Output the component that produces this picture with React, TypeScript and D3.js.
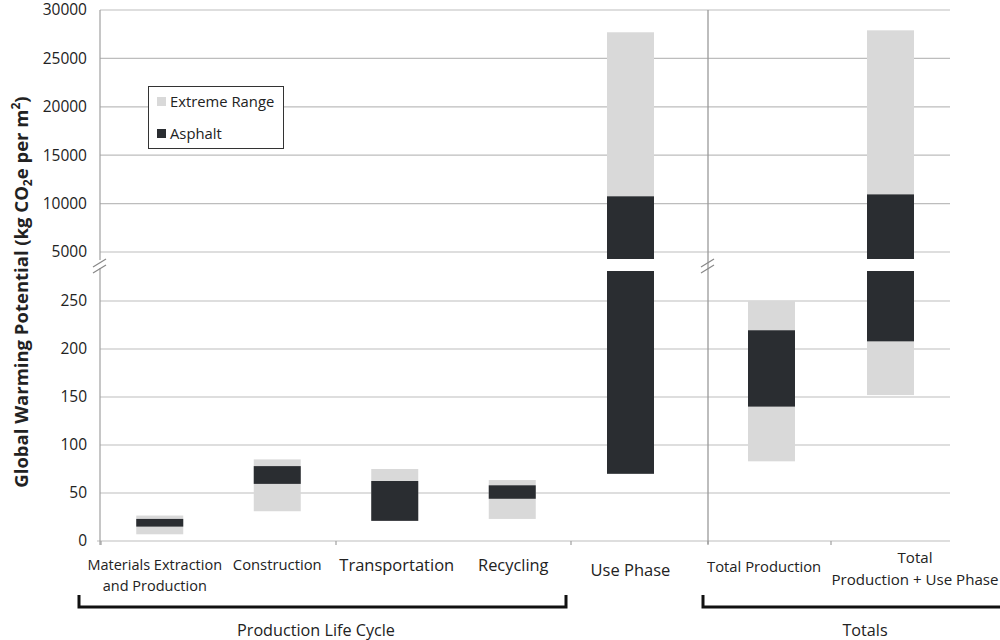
import React from "react";
import * as d3 from "d3";

// Life-cycle stages and totals
const categories = [
  "Materials Extraction and Production",
  "Construction",
  "Transportation",
  "Recycling",
  "Use Phase",
  "Total Production",
  "Total Production + Use Phase",
];
const categoryLines = [
  ["Materials Extraction", "and Production"],
  ["Construction"],
  ["Transportation"],
  ["Recycling"],
  ["Use Phase"],
  ["Total Production"],
  ["Total", "Production + Use Phase"],
];

// Extreme range (light) and asphalt (dark), kg CO2e per m2
const extremeLow = [7, 31, 21, 23, 70, 83, 152];
const extremeHigh = [26.5, 85, 75, 63.5, 27700, 250, 27900];
const asphaltLow = [15, 59.5, 21, 44, 70, 140, 208];
const asphaltHigh = [23, 78, 62.5, 58, 10750, 219.5, 10950];

const upperTicks = [5000, 10000, 15000, 20000, 25000, 30000];
const lowerTicks = [0, 50, 100, 150, 200, 250];

const groupNames = ["Production Life Cycle", "Totals"];
const legendLabels = ["Extreme Range", "Asphalt"];

const LIGHT = "#d9d9d9";
const DARK = "#2a2d31";
const GRID = "#bdbdbd";
const AXIS = "#a0a0a0";
const FONT = "'Open Sans', sans-serif";

const W = 1000;
const H = 640;
const X0 = 100;
const X1 = 950;

// Broken value axis: two linear panels
const yLow = d3.scaleLinear().domain([0, 250]).range([541, 301]);
const yHigh = d3.scaleLinear().domain([5000, 30000]).range([252, 10]);
const lowTop = 271; // top pixel of lower panel
const highBottom = 259; // bottom pixel of upper panel
const lowMax = yLow.invert(lowTop);
const highMin = yHigh.invert(highBottom);

// Three horizontal sections, each with its own band scale
const sections = [
  { idx: [0, 1, 2, 3], range: [101, 571] },
  { idx: [4], range: [571, 690] },
  { idx: [5, 6], range: [712, 950] },
];
const bandScales = sections.map((s) =>
  d3.scaleBand<number>().domain(s.idx).range(s.range as [number, number])
);
function bandFor(i: number) {
  const k = sections.findIndex((s) => s.idx.includes(i));
  return bandScales[k];
}
const BAR_W = 47;
const centerX = (i: number) => {
  const b = bandFor(i);
  return (b(i) as number) + b.bandwidth() / 2;
};

// label typography per category
const labelSize = [14.5, 14.8, 16.5, 16.4, 16.5, 14.8, 15.1];
const labelBaseline = [570, 570, 571, 571, 576, 572, 563];
const labelShift = [-5, 0, 2, 1, 0, 0, 0];

function rangeRects(lo: number, hi: number) {
  const out: { y: number; h: number }[] = [];
  if (lo < lowMax) {
    const yb = yLow(lo);
    const yt = hi >= lowMax ? lowTop : yLow(hi);
    out.push({ y: yt, h: yb - yt });
  }
  if (hi > highMin) {
    const yb = lo <= highMin ? highBottom : yHigh(lo);
    const yt = yHigh(hi);
    out.push({ y: yt, h: yb - yt });
  }
  return out;
}

function BreakMark({ x, y }: { x: number; y: number }) {
  return (
    <g stroke="#888" strokeWidth={1.3}>
      <line x1={x - 7} y1={y + 2} x2={x + 6} y2={y - 6} />
      <line x1={x - 7} y1={y + 8} x2={x + 6} y2={y} />
    </g>
  );
}

export default function App() {
  const b0 = bandScales[0];
  const b2 = bandScales[2];
  const xTicks = [
    b0(0) as number,
    b0(2) as number,
    b0.range()[1],
    712 - 4,
    b2(6) as number,
  ];
  const dividerX = 708;

  return (
    <svg
      width={W}
      height={H}
      style={{ position: "absolute", left: 0, top: 0, background: "#fff" }}
      fontFamily={FONT}
    >
      {/* gridlines */}
      {upperTicks.map((t) => (
        <line key={"gu" + t} x1={X0} x2={X1} y1={yHigh(t)} y2={yHigh(t)} stroke={GRID} strokeWidth={1.2} />
      ))}
      {lowerTicks.map((t) => (
        <line key={"gl" + t} x1={t === 0 ? 97 : X0} x2={X1} y1={yLow(t)} y2={yLow(t)} stroke={GRID} strokeWidth={1.2} />
      ))}

      {/* axes */}
      <line x1={X0} x2={X0} y1={yHigh(30000)} y2={highBottom + 1} stroke={AXIS} strokeWidth={1.2} />
      <line x1={X0} x2={X0} y1={lowTop - 3} y2={yLow(0) + 4} stroke={AXIS} strokeWidth={1.2} />
      <BreakMark x={X0} y={265} />
      <line x1={dividerX} x2={dividerX} y1={yHigh(30000)} y2={yLow(0) + 3} stroke="#9a9a9a" strokeWidth={1.3} />
      <BreakMark x={dividerX} y={265} />
      {xTicks.map((x, i) => (
        <line key={"xt" + i} x1={x} x2={x} y1={yLow(0)} y2={yLow(0) + 4} stroke={AXIS} strokeWidth={1.2} />
      ))}

      {/* tick labels */}
      {upperTicks.map((t) => (
        <text key={"lu" + t} x={87} y={yHigh(t)} dy="0.35em" textAnchor="end" fontSize={15.5} fill="#222">
          {t}
        </text>
      ))}
      {lowerTicks.map((t) => (
        <text key={"ll" + t} x={87} y={yLow(t)} dy="0.35em" textAnchor="end" fontSize={15.5} fill="#222">
          {t}
        </text>
      ))}

      {/* bars: extreme range underneath, asphalt on top */}
      {categories.map((c, i) => (
        <g key={c}>
          {rangeRects(extremeLow[i], extremeHigh[i]).map((r, j) => (
            <rect key={"e" + j} x={centerX(i) - BAR_W / 2} y={r.y} width={BAR_W} height={r.h} fill={LIGHT} />
          ))}
          {rangeRects(asphaltLow[i], asphaltHigh[i]).map((r, j) => (
            <rect key={"a" + j} x={centerX(i) - BAR_W / 2} y={r.y} width={BAR_W} height={r.h} fill={DARK} />
          ))}
        </g>
      ))}

      {/* category labels */}
      {categoryLines.map((lines, i) => {
        const b = bandFor(i);
        const x =
          i === 5
            ? (b(i) as number) - 5
            : i === 6
            ? (b(i) as number) + 84
            : centerX(i) + labelShift[i];
        const anchor = i === 5 ? "start" : "middle";
        return (
          <text key={"c" + i} x={x} y={labelBaseline[i]} textAnchor={anchor} fontSize={labelSize[i]} fill="#222">
            {lines.map((l, k) => (
              <tspan key={k} x={x} dy={k === 0 ? 0 : i === 6 ? 22 : 20.7}>
                {l}
              </tspan>
            ))}
          </text>
        );
      })}

      {/* group brackets */}
      <path d="M79,595 V607 H566 V595" fill="none" stroke="#111" strokeWidth={3} />
      <text x={316} y={636} textAnchor="middle" fontSize={16.2} fill="#222">
        {groupNames[0]}
      </text>
      <path d="M703,595 V607 H1005" fill="none" stroke="#111" strokeWidth={3} />
      <text x={865} y={636} textAnchor="middle" fontSize={16.2} fill="#222">
        {groupNames[1]}
      </text>

      {/* y-axis title */}
      <text
        transform="translate(28,292) rotate(-90)"
        textAnchor="middle"
        fontSize={18.5}
        fontWeight="bold"
        fill="#222"
      >
        Global Warming Potential (kg CO
        <tspan fontSize={12} dy={4}>2</tspan>
        <tspan dy={-4}>e per m</tspan>
        <tspan fontSize={12} dy={-8}>2</tspan>
        <tspan dy={8}>)</tspan>
      </text>

      {/* legend */}
      <g>
        <rect x={148.5} y={86.5} width={135} height={62} fill="#fff" stroke="#333" strokeWidth={1} />
        {legendLabels.map((l, i) => (
          <g key={l}>
            <rect x={157} y={97 + i * 32} width={9} height={9} fill={i === 0 ? LIGHT : DARK} />
            <text x={170} y={101.5 + i * 32} dy="0.35em" fontSize={14.8} fill="#222">
              {l}
            </text>
          </g>
        ))}
      </g>
    </svg>
  );
}
